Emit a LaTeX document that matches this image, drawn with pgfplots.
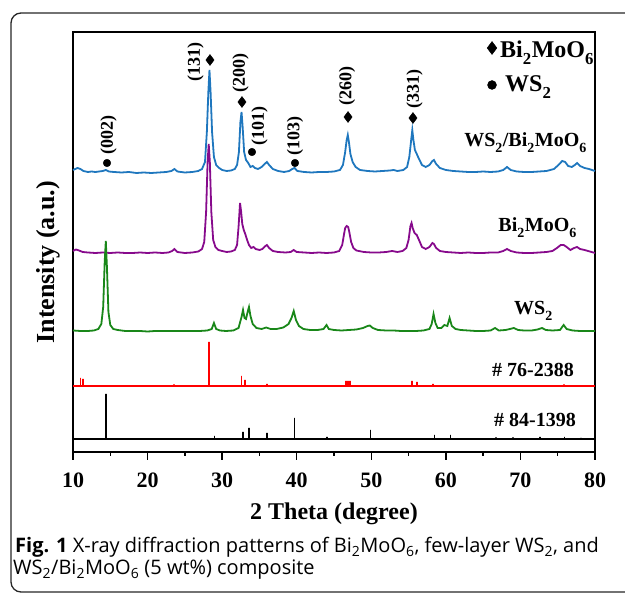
\documentclass[border=0pt]{standalone}
\usepackage{pgfplots}
\pgfplotsset{compat=1.18}
\usepackage{fontspec}
\setmainfont{Liberation Serif}
\newfontfamily\capfont{Open Sans}
\definecolor{cblue}{RGB}{31,119,190}
\definecolor{cpurple}{RGB}{135,10,140}
\definecolor{cgreen}{RGB}{25,135,25}
\newcommand{\fs}[1]{\fontsize{#1}{#1}\selectfont}
\newcommand{\s}[1]{\textsubscript{\raisebox{-0.3ex}{#1}}}
\begin{document}
\begin{tikzpicture}
\useasboundingbox (0pt,0pt) rectangle (625pt,594pt);
\draw[line width=1.3pt, rounded corners=10pt, black!85] (11pt,2pt) rectangle (660pt,581pt);
\begin{axis}[
    at={(73pt,142pt)}, anchor=south west,
    scale only axis, width=522pt, height=420pt,
    xmin=10, xmax=80, ymin=0, ymax=420,
    xtick={10,20,...,80}, minor x tick num=1,
    ytick=\empty, xtick pos=left,
    tick align=outside,
    major tick length=8pt, minor tick length=4pt,
    every tick/.style={line width=1.4pt, black},
    axis line style={line width=1.4pt},
    /pgf/number format/assume math mode=true,
    xticklabel style={font=\fs{22}\bfseries, yshift=-9pt},
    xlabel={2 Theta (degree)},
    xlabel style={font=\fs{24}\bfseries, at={(axis description cs:0.5,-0.16)}, anchor=base},
    ylabel={Intensity (a.u.)},
    ylabel style={font=\fs{26}\bfseries, at={(axis description cs:-0.047,0.452)}, anchor=center},
    clip=false,
]
% WS2/Bi2MoO6
\addplot[cblue, line width=1.8pt] coordinates {
(10.0,282) (10.3,283) (10.6,284) (11.0,283) (11.4,281) (12.0,280) (12.5,280.5) (13.0,280) (13.5,280.5)
(14.0,281) (14.4,282) (14.8,280.5) (15.5,280) (16.5,279.5) (17.5,280) (18.5,279) (19.5,279.5) (20.5,279)
(21.5,279.5) (22.5,280) (23.2,281) (23.6,283) (24.0,280.5) (25.0,279.5) (26.0,280) (26.8,281) (27.3,283)
(27.7,290) (27.95,320) (28.15,360) (28.3,382) (28.45,360) (28.65,320) (28.9,295) (29.2,287) (29.6,284)
(30.0,282) (30.6,281) (31.2,281.5) (31.7,283) (32.0,287) (32.25,300) (32.45,330) (32.6,340) (32.75,325)
(32.95,300) (33.2,292) (33.5,289) (33.8,285) (34.1,286) (34.4,284) (34.8,283) (35.3,285) (35.7,288)
(36.0,290) (36.3,287) (36.8,283) (37.5,281) (38.3,280) (39.0,281) (39.4,283) (39.7,284) (40.1,281)
(41.0,280) (42.0,279.5) (43.0,280) (44.0,280) (45.0,280.5) (45.8,282) (46.2,287) (46.5,300) (46.7,312)
(46.85,317) (47.0,310) (47.2,298) (47.5,290) (47.9,285) (48.5,282) (49.5,281) (50.5,280.5) (51.5,281)
(52.5,281.5) (53.0,282) (53.5,281) (54.3,282) (54.8,285) (55.1,295) (55.35,312) (55.5,322) (55.65,312)
(55.85,302) (56.1,298) (56.4,293) (56.8,287) (57.3,285) (57.8,287) (58.2,291) (58.4,292) (58.7,288)
(59.2,284) (60.0,282) (61,281) (62,280.5) (63,280) (64,280) (65,280.5) (66,280) (67,280.5) (67.7,282)
(68.2,285) (68.7,282) (69.5,280.5) (70.5,280) (71.5,280) (72.5,280.5) (73.5,281) (74.5,283) (75.1,287)
(75.6,291) (76.0,290) (76.4,286) (76.9,285) (77.3,287) (77.6,289) (78.0,286) (78.6,284) (79.2,283) (80.0,281)
};
% Bi2MoO6
\addplot[cpurple, line width=1.8pt] coordinates {
(10.0,201) (10.4,202.5) (10.8,201.5) (11.3,200) (12,199.5) (13,199) (14,199.5) (15,199) (16,199.5) (17,199)
(18,199) (19,199.5) (20,199) (21,199.5) (22,199) (22.8,199.5) (23.3,201) (23.6,203) (24.0,200) (25,199)
(26,199.5) (26.8,200.5) (27.3,203) (27.6,210) (27.85,240) (28.05,290) (28.2,308) (28.35,290) (28.55,240)
(28.8,212) (29.1,205) (29.5,202) (30,201) (30.6,200) (31.2,200.5) (31.7,202) (32.0,207) (32.2,225)
(32.4,249) (32.55,240) (32.7,228) (32.9,222) (33.1,218) (33.35,212) (33.6,207) (33.9,204) (34.2,205)
(34.5,203) (35.0,202) (35.4,203) (35.8,206) (36.0,207) (36.3,204) (36.8,201) (37.5,200) (38.5,199.5)
(39.2,200) (39.6,202) (40.0,200) (41,199.5) (42,199) (43,199.5) (44,199) (45,199.5) (45.7,201) (46.1,207)
(46.35,218) (46.5,224) (46.7,226) (46.9,225) (47.05,220) (47.3,210) (47.6,204) (48.0,201.5) (49,200)
(50,199.5) (51,199.5) (52,200) (52.8,201) (53.5,200) (54.2,201) (54.7,204) (55.0,212) (55.25,226)
(55.4,229) (55.55,224) (55.8,219) (56.1,217) (56.4,212) (56.8,205) (57.3,203) (57.8,205) (58.2,209)
(58.4,208) (58.7,204) (59.2,201) (60,200) (61,199.5) (62,199) (63,199.5) (64,199) (65,199) (66,199.5)
(67,199.5) (67.7,201) (68.2,203) (68.7,201) (69.5,199.5) (70.5,199) (71.5,199) (72.5,199.5) (73.5,200)
(74.3,201) (74.9,204) (75.4,207) (75.8,207) (76.2,205) (76.7,202) (77.2,204) (77.6,205) (78.0,203)
(78.6,202) (79.3,200.5) (80,199)
};
% WS2
\addplot[cgreen, line width=1.8pt] coordinates {
(10,121.5) (11,121) (12,121) (12.8,121.5) (13.4,123) (13.8,128) (14.05,145) (14.25,190) (14.4,211)
(14.55,185) (14.75,140) (15.0,127) (15.4,123) (16,122) (17,121) (18,121) (19,121) (20,120.5) (21,121)
(22,121) (23,121) (24,121) (25,121) (26,121) (27,121) (28,121.5) (28.6,123) (28.9,129) (29.2,123)
(29.7,121.5) (30.5,121) (31.5,121.5) (32.2,124) (32.6,135) (32.8,142) (33.0,134) (33.2,133) (33.45,141)
(33.6,145) (33.8,136) (34.1,128) (34.6,124) (35.3,123) (35.9,124.5) (36.5,123) (37.3,123) (38.2,124.5)
(38.9,128) (39.3,134) (39.6,141) (39.9,132) (40.3,126) (40.9,123) (41.8,122) (42.8,122) (43.6,123)
(44.0,127) (44.3,123) (45,122) (46,121.5) (47,122) (48,122.5) (48.9,124) (49.5,126) (49.8,126.5)
(50.2,124) (50.9,122) (52,121.5) (53,121.5) (54,121) (55,121) (56,121) (57,121.5) (57.8,123) (58.1,128)
(58.35,138) (58.6,129) (58.9,124) (59.4,124) (59.8,127) (60.2,126) (60.5,134) (60.8,126) (61.3,123)
(62,122) (63,121.5) (64,121) (65,121) (66,121.5) (66.6,124) (67.1,121.5) (68,122) (68.6,123) (69.1,124)
(69.7,122) (70.5,121.5) (71.5,121.5) (72.3,122.5) (72.9,124) (73.4,122) (74.3,121.5) (75.3,122)
(75.8,127) (76.2,123) (77,121.5) (78,121) (79,121) (80,121)
};
% JCPDS 76-2388 (sticks on baseline 66)
\addplot[red, line width=1.8pt] coordinates {
(10,66) (11.0,66) (11.0,74) (11.0,66) (11.3,66) (11.3,73) (11.3,66) (23.5,66) (23.5,67.5) (23.5,66)
(28.25,66) (28.25,110) (28.25,66) (32.6,66) (32.6,76) (32.6,66) (33.1,66) (33.1,72) (33.1,66)
(36.0,66) (36.0,68) (36.0,66) (46.65,66) (46.65,71) (46.65,66) (46.8,66) (46.8,71) (46.8,66)
(46.95,66) (46.95,71) (46.95,66) (47.1,66) (47.1,71) (47.1,66) (55.5,66) (55.5,71) (55.5,66)
(56.1,66) (56.1,70) (56.1,66) (58.3,66) (58.3,68) (58.3,66) (75.8,66) (75.8,67.5) (75.8,66) (80,66)
};
% JCPDS 84-1398 (sticks on baseline 13)
\addplot[black, line width=1.6pt] coordinates {
(10,13) (14.4,13) (14.4,58) (14.4,13) (29.0,13) (29.0,16) (29.0,13) (32.8,13) (32.8,20) (32.8,13)
(33.6,13) (33.6,24) (33.6,13) (36.0,13) (36.0,19) (36.0,13) (39.7,13) (39.7,34) (39.7,13)
(44.1,13) (44.1,15) (44.1,13) (49.9,13) (49.9,22) (49.9,13) (58.5,13) (58.5,17) (58.5,13)
(60.6,13) (60.6,17) (60.6,13) (66.7,13) (66.7,14.5) (66.7,13) (69.0,13) (69.0,14.5) (69.0,13)
(72.6,13) (72.6,15) (72.6,13) (75.9,13) (75.9,15) (75.9,13) (78.1,13) (78.1,14) (78.1,13) (80,13)
};
% peak markers
\addplot[only marks, mark=diamond*, mark size=5.5pt, black] coordinates {
(28.37,392) (32.66,350) (46.88,335) (55.59,334)};
\addplot[only marks, mark=*, mark size=3.8pt, black] coordinates {
(34.0,300) (39.77,289) (14.56,289)};
\addplot[only marks, mark=diamond*, mark size=6.5pt, black] coordinates {(66.19,404)};
\addplot[only marks, mark=*, mark size=4.5pt, black] coordinates {(66.19,367)};
% peak labels
\begin{scope}[every node/.style={font=\fs{18}\bfseries, rotate=90, anchor=center, inner sep=0pt}]
\node at (axis cs:26.43,390) {(131)};
\node at (axis cs:32.46,379) {(200)};
\node at (axis cs:35.01,326) {(101)};
\node at (axis cs:39.77,316) {(103)};
\node at (axis cs:14.76,317) {(002)};
\node at (axis cs:46.74,366) {(260)};
\node at (axis cs:55.80,363) {(331)};
\end{scope}
% legend
\node[font=\fs{24}\bfseries, anchor=base west, inner sep=0pt] at (axis cs:67.26,394) {Bi\s{2}MoO\s{6}};
\node[font=\fs{24}\bfseries, anchor=base west, inner sep=0pt] at (axis cs:67.93,360) {WS\s{2}};
% curve labels
\begin{scope}[every node/.style={font=\fs{20}\bfseries, anchor=base east, inner sep=0pt}]
\node at (axis cs:78.93,305) {WS\s{2}/Bi\s{2}MoO\s{6}};
\node at (axis cs:77.59,220) {Bi\s{2}MoO\s{6}};
\node at (axis cs:74.37,137) {WS\s{2}};
\node at (axis cs:77.19,75) {\# 76-2388};
\node at (axis cs:77.45,25) {\# 84-1398};
\end{scope}
\end{axis}
\node[anchor=base west, inner sep=0pt, font=\capfont\fs{20}] at (15pt,41pt) {\textbf{Fig. 1} X-ray diffraction patterns of Bi\textsubscript{2}MoO\textsubscript{6}, few-layer WS\textsubscript{2}, and};
\node[anchor=base west, inner sep=0pt, font=\capfont\fs{20}] at (13pt,19pt) {WS\textsubscript{2}/Bi\textsubscript{2}MoO\textsubscript{6} (5 wt\%) composite};
\end{tikzpicture}
\end{document}
